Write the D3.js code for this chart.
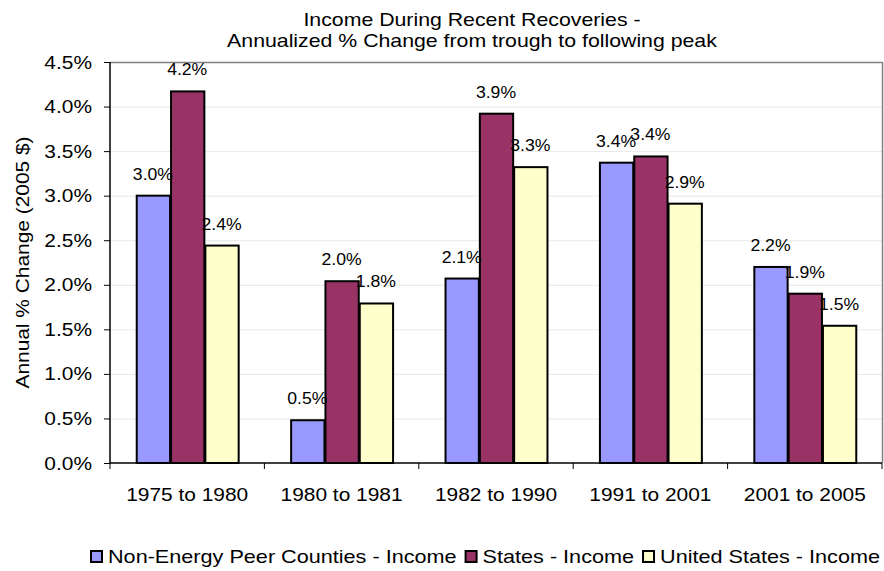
<!DOCTYPE html>
<html>
<head>
<meta charset="utf-8">
<script src="https://cdn.jsdelivr.net/npm/d3@7"></script>
<style>
  body { margin: 0; background: #fff; }
  svg { display: block; font-family: "Liberation Sans", Arial, sans-serif; }
</style>
</head>
<body>
<div id="chart"></div>
<script>
// Data (annualized % change)
const categories = ["1975 to 1980", "1980 to 1981", "1982 to 1990", "1991 to 2001", "2001 to 2005"];
const seriesNames = ["Non-Energy Peer Counties - Income", "States - Income", "United States - Income"];
const peerValues = [3.00, 0.48, 2.07, 3.37, 2.20];
const stateValues = [4.17, 2.04, 3.92, 3.44, 1.90];
const usValues = [2.44, 1.79, 3.32, 2.91, 1.54];
const yTicks = [0, 0.5, 1.0, 1.5, 2.0, 2.5, 3.0, 3.5, 4.0, 4.5];
const titleLines = ["Income During Recent Recoveries -", "Annualized % Change from trough to following peak"];
const yTitle = "Annual % Change (2005 $)";
const colors = ["#9999FF", "#993366", "#FFFFCC"];

const width = 884, height = 571;
const plot = { left: 110, right: 882, top: 62, bottom: 463 };
const stretch = 1.1; // the reference text is a bit wider than Arial

const svg = d3.select("#chart")
  .append("svg")
  .attr("width", width)
  .attr("height", height);

// widen text so it matches the look of the picture
function widen(sel, k) {
  sel.each(function () {
    const w = this.getComputedTextLength();
    d3.select(this).attr("textLength", w * k).attr("lengthAdjust", "spacingAndGlyphs");
  });
}

// Title
svg.selectAll(".title")
  .data(titleLines)
  .enter()
  .append("text")
  .attr("class", "title")
  .attr("x", 472)
  .attr("y", (d, i) => 26 + i * 21)
  .attr("text-anchor", "middle")
  .style("font-size", "19px")
  .text(d => d)
  .call(widen, 1.12);

// Scales
const x0 = d3.scaleBand()
  .domain(categories)
  .range([plot.left, plot.right])
  .paddingInner(1 / 3)
  .paddingOuter(1 / 6);

const x1 = d3.scaleBand()
  .domain(d3.range(seriesNames.length))
  .range([0, x0.bandwidth()]);

const y = d3.scaleLinear()
  .domain([0, 4.5])
  .range([plot.bottom, plot.top]);

// Gridlines
svg.append("g")
  .selectAll("line")
  .data(yTicks.slice(1, -1))
  .enter()
  .append("line")
  .attr("x1", plot.left)
  .attr("x2", plot.right)
  .attr("y1", d => y(d) + 0.5)
  .attr("y2", d => y(d) + 0.5)
  .attr("stroke", "#e8e8e8")
  .attr("stroke-width", 1);

// Plot border (top and right are gray)
svg.append("path")
  .attr("d", `M${plot.left},${plot.top + 0.5}H${plot.right + 0.5}V${plot.bottom}`)
  .attr("fill", "none")
  .attr("stroke", "#808080")
  .attr("stroke-width", 1.5);

// Bars
const table = categories.map((c, i) => ({
  category: c,
  values: [peerValues[i], stateValues[i], usValues[i]]
}));

const groups = svg.append("g")
  .selectAll("g")
  .data(table)
  .enter()
  .append("g")
  .attr("transform", d => `translate(${x0(d.category)},0)`);

groups.selectAll("rect")
  .data(d => d.values.map((v, k) => ({ k: k, v: v })))
  .enter()
  .append("rect")
  .attr("x", d => x1(d.k) + 1)
  .attr("y", d => y(d.v))
  .attr("width", x1.bandwidth() - 1)
  .attr("height", d => y(0) - y(d.v))
  .attr("fill", d => colors[d.k])
  .attr("stroke", "#000")
  .attr("stroke-width", 2);

// Data labels
groups.selectAll("text")
  .data(d => d.values.map((v, k) => ({ k: k, v: v })))
  .enter()
  .append("text")
  .attr("x", d => x1(d.k) + x1.bandwidth() / 2)
  .attr("y", d => y(d.v) - 16)
  .attr("text-anchor", "middle")
  .style("font-size", "16px")
  .text(d => d.v.toFixed(1) + "%")
  .call(widen, stretch);

// Y axis
const yAxis = svg.append("g")
  .attr("transform", `translate(${plot.left},0)`)
  .call(d3.axisLeft(y).tickValues(yTicks).tickFormat(d => d.toFixed(1) + "%").tickSize(6).tickPadding(12));
yAxis.select(".domain").attr("stroke", "#000").attr("stroke-width", 1.5).attr("d", `M0,${plot.top}V${plot.bottom}`);
yAxis.selectAll(".tick line").attr("stroke", "#000");
yAxis.selectAll(".tick text")
  .attr("fill", "#000")
  .style("font-size", "19px")
  .style("font-family", "'Liberation Sans', Arial, sans-serif")
  .call(widen, stretch);

// X axis: ticks at category boundaries
const xAxis = svg.append("g")
  .attr("transform", `translate(0,${plot.bottom})`);
xAxis.append("line")
  .attr("x1", plot.left)
  .attr("x2", plot.right)
  .attr("stroke", "#000")
  .attr("stroke-width", 1.5);
xAxis.selectAll(".xtick")
  .data(d3.range(categories.length + 1))
  .enter()
  .append("line")
  .attr("x1", i => i < categories.length ? x0(categories[i]) - x0.step() * x0.paddingOuter() : plot.right)
  .attr("x2", i => i < categories.length ? x0(categories[i]) - x0.step() * x0.paddingOuter() : plot.right)
  .attr("y1", 0)
  .attr("y2", 6)
  .attr("stroke", "#000");
xAxis.selectAll(".xlabel")
  .data(categories)
  .enter()
  .append("text")
  .attr("x", d => x0(d) + x0.bandwidth() / 2)
  .attr("y", 38)
  .attr("text-anchor", "middle")
  .style("font-size", "19px")
  .text(d => d)
  .call(widen, stretch);

// Y axis title
svg.append("text")
  .attr("transform", `translate(29,${(plot.top + plot.bottom) / 2}) rotate(-90)`)
  .attr("text-anchor", "middle")
  .style("font-size", "19px")
  .text(yTitle)
  .call(widen, stretch);

// Legend: spread to fit between x=91 and x=880
const legend = svg.append("g");
const legendLeft = 91, legendRight = 880;
const box = 11, boxGap = 6, itemGap = 9;
const legendTexts = seriesNames.map(name => legend.append("text")
  .attr("y", 563)
  .style("font-size", "19px")
  .text(name));
const natural = legendTexts.map(t => t.node().getComputedTextLength());
const fixedSpace = seriesNames.length * (box + boxGap) + (seriesNames.length - 1) * itemGap;
const legendStretch = (legendRight - legendLeft - fixedSpace) / d3.sum(natural);
let lx = legendLeft;
seriesNames.forEach((name, i) => {
  legend.append("rect")
    .attr("x", lx)
    .attr("y", 551)
    .attr("width", box)
    .attr("height", box)
    .attr("fill", colors[i])
    .attr("stroke", "#000")
    .attr("stroke-width", 2);
  legendTexts[i]
    .attr("x", lx + box + boxGap)
    .attr("textLength", natural[i] * legendStretch)
    .attr("lengthAdjust", "spacingAndGlyphs");
  lx += box + boxGap + natural[i] * legendStretch + itemGap;
});
</script>
</body>
</html>
